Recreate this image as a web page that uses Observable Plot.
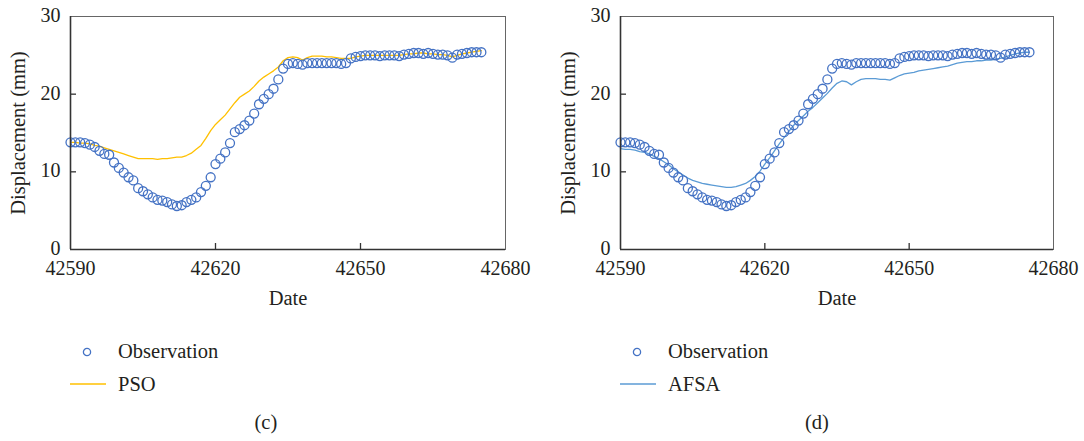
<!DOCTYPE html>
<html><head><meta charset="utf-8">
<script src="https://cdn.jsdelivr.net/npm/d3@7"></script>
<script src="https://cdn.jsdelivr.net/npm/@observablehq/plot@0.6"></script>
<style>
body{margin:0;background:#fff;}
#wrap{position:relative;width:1084px;height:441px;font-family:"Liberation Serif",serif;color:#231f20;overflow:hidden;}
.panel{position:absolute;top:0;}
.leg{position:absolute;font-size:20.5px;line-height:20px;white-space:nowrap;}
.leg svg{display:block;}
</style></head><body><div id="wrap"></div>
<script>
const dates=[42590,42591,42592,42593,42594,42595,42596,42597,42598,42599,42600,42601,42602,42603,42604,42605,42606,42607,42608,42609,42610,42611,42612,42613,42614,42615,42616,42617,42618,42619,42620,42621,42622,42623,42624,42625,42626,42627,42628,42629,42630,42631,42632,42633,42634,42635,42636,42637,42638,42639,42640,42641,42642,42643,42644,42645,42646,42647,42648,42649,42650,42651,42652,42653,42654,42655,42656,42657,42658,42659,42660,42661,42662,42663,42664,42665,42666,42667,42668,42669,42670,42671,42672,42673,42674,42675];
const observation=[13.8,13.8,13.8,13.7,13.5,13.2,12.7,12.3,12.2,11.2,10.5,9.9,9.3,8.9,7.9,7.5,7.1,6.7,6.4,6.3,6.1,5.8,5.6,5.7,6.1,6.4,6.7,7.4,8.2,9.3,11.0,11.7,12.5,13.7,15.1,15.5,16.0,16.6,17.5,18.7,19.4,20.0,20.7,21.9,23.3,23.9,24.0,23.9,23.8,24.0,24.0,24.0,24.0,24.0,24.0,24.0,23.9,24.0,24.6,24.8,24.9,25.0,25.0,25.0,24.9,25.0,25.0,25.0,24.9,25.1,25.2,25.3,25.3,25.2,25.3,25.2,25.1,25.1,25.0,24.7,25.1,25.2,25.3,25.4,25.4,25.4];
const pso=[13.8,13.8,13.7,13.7,13.6,13.4,13.3,13.1,12.9,12.7,12.5,12.3,12.1,11.9,11.7,11.7,11.7,11.7,11.6,11.7,11.7,11.8,11.9,11.9,12.1,12.4,12.9,13.4,14.3,15.3,16.1,16.7,17.3,18.1,18.9,19.6,20.0,20.4,21.0,21.7,22.2,22.6,23.0,23.5,24.3,24.7,24.8,24.7,24.4,24.7,24.9,24.9,24.9,24.8,24.8,24.7,24.6,24.6,24.6,24.8,24.9,25.0,25.0,25.0,25.0,25.0,25.0,25.0,25.0,25.1,25.2,25.2,25.3,25.3,25.2,25.2,25.1,25.1,25.0,24.8,25.0,25.2,25.3,25.4,25.5,25.6];
const afsa=[13.0,12.9,12.9,12.8,12.6,12.5,12.3,12.0,11.7,11.3,10.9,10.4,10.0,9.6,9.2,8.9,8.7,8.5,8.4,8.3,8.2,8.1,8.0,8.0,8.1,8.3,8.5,8.9,9.4,10.1,11.0,11.8,12.7,13.6,14.4,15.2,16.0,16.6,17.2,17.8,18.3,18.9,19.5,20.1,20.8,21.4,21.7,21.6,21.2,21.6,21.9,22.0,22.0,22.0,21.9,21.9,21.8,22.1,22.4,22.6,22.7,22.8,23.0,23.1,23.2,23.3,23.4,23.5,23.6,23.8,24.0,24.1,24.2,24.2,24.3,24.3,24.4,24.4,24.5,24.6,24.8,25.0,25.2,25.3,25.4,25.4];
const xTicks=[42590,42620,42650,42680];
const yTicks=[0,10,20,30];
const innerXTicks=[42620,42650];
const innerYTicks=[10,20];
const xLabel="Date";
const yLabel="Displacement (mm)";
const obsName="Observation";
const OBS_COLOR="#4472C4";

const wrap=document.getElementById("wrap");

function makePanel(model,color,left,width,marginRight){
  const rows=dates.map((d,i)=>({date:d,obs:observation[i],model:model[i]}));
  const height=310, mt=16, mb=61, ml=70;
  const ph=height-mt-mb, pw=width-ml-marginRight;
  const svg=Plot.plot({
    width,height,marginLeft:ml,marginRight,marginTop:mt,marginBottom:mb,
    x:{domain:[42590,42680]},
    y:{domain:[0,30]},
    style:{fontFamily:"'Liberation Serif',serif",fontSize:"20px",color:"#231f20",background:"transparent",overflow:"visible"},
    marks:[
      Plot.line(rows,{x:"date",y:"model",stroke:color,strokeWidth:1.3}),
      Plot.dot(rows,{x:"date",y:"obs",r:4.5,stroke:OBS_COLOR,strokeWidth:1.3,fill:"none"}),
      Plot.frame({stroke:"#666",strokeWidth:1}),
      Plot.ruleX([42590],{stroke:"#333",strokeWidth:1.6}),
      Plot.ruleY([0],{stroke:"#333",strokeWidth:1.6}),
      Plot.tickX(innerXTicks,{x:d=>d,stroke:"#333",strokeWidth:1.3,insetTop:ph-6}),
      Plot.tickY(innerYTicks,{y:d=>d,stroke:"#333",strokeWidth:1.3,insetRight:pw-6}),
      Plot.axisX({ticks:xTicks,tickSize:0,tickPadding:11,tickFormat:d=>String(d),label:null}),
      Plot.axisY({ticks:yTicks,tickSize:0,tickPadding:10,dy:-1,label:null}),
      Plot.text([xLabel],{text:d=>d,frameAnchor:"bottom",dy:49,lineAnchor:"middle",textAnchor:"middle",fontSize:20.5,fill:"#231f20"}),
      Plot.text([yLabel],{text:d=>d,frameAnchor:"left",rotate:-90,dx:-52,lineAnchor:"middle",textAnchor:"middle",fontSize:20.5,fill:"#231f20"})
    ]
  });
  svg.classList.add("panel");
  svg.style.left=left+"px";
  wrap.appendChild(svg);
}

function legend(x0,name,color,cap,capX){
  const mk=(html,l,t)=>{const d=document.createElement("div");d.className="leg";d.style.left=l+"px";d.style.top=t+"px";d.innerHTML=html;wrap.appendChild(d);return d;};
  mk(`<svg width="12" height="12"><circle cx="6" cy="6" r="3.6" fill="none" stroke="${OBS_COLOR}" stroke-width="1.3"/></svg>`,x0+11,346);
  mk(obsName,x0+48,341);
  mk(`<svg width="36" height="4"><line x1="0" x2="36" y1="2" y2="2" stroke="${color}" stroke-width="1.4"/></svg>`,x0,382);
  mk(name,x0+48,374);
  const c=mk(cap,0,412);
  c.style.left=(capX-c.offsetWidth/2)+"px";
}

makePanel(pso,"#FFC000",0,542,37);
makePanel(afsa,"#5B9BD5",550,534,31);
legend(70,"PSO","#FFC000","(c)",266);
legend(620,"AFSA","#5B9BD5","(d)",817);
</script></body></html>
